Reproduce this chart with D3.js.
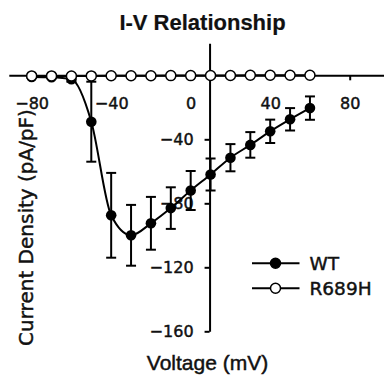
<!DOCTYPE html>
<html>
<head>
<meta charset="utf-8">
<script src="https://cdn.jsdelivr.net/npm/d3@7"></script>
<style>
  html, body { margin: 0; padding: 0; background: #ffffff; }
  svg text { stroke: #111; stroke-width: 0.45px; }
</style>
</head>
<body>
<div id="chart"></div>
<script>
// data (pA/pF vs mV)
const voltages = [-80, -70, -60, -50, -40, -30, -20, -10, 0, 10, 20, 30, 40, 50, 60]
const wtMean = [-1, -1.2, -2.5, -29, -87.5, -100, -92.5, -83, -72, -62, -51.5, -43.5, -35, -27.5, -20.5]
const wtSem = [0.5, 0.8, 1.5, 25, 26.5, 19, 16.5, 13, 12.2, 10, 8.5, 8, 7.3, 7, 7.3]
const mutMean = [-0.4, -0.4, -0.5, -0.4, -0.3, -0.3, -0.3, -0.2, -0.2, -0.1, -0.1, 0, 0, 0, 0]
const xTicks = [-80, -40, 0, 40, 80]
const yTicks = [-40, -80, -120, -160]
const seriesNames = ['WT', 'R689H']

const width = 384
const height = 376
const yAxisAt = 9.5 // the vertical axis crosses a little right of 0 mV in the original

const svg = d3
  .select('#chart')
  .append('svg')
  .attr('width', width)
  .attr('height', height)
  .style('font-family', 'DejaVu Sans, sans-serif')

const xScale = d3.scaleLinear().domain([-91.5, 97]).range([8.8, 383.5])
const yScale = d3.scaleLinear().domain([-160, 20]).range([331.3, 43.3])

const xAxis = (g) => {
  g.attr('transform', `translate(0, ${yScale(0)})`)
    .call(d3.axisBottom(xScale).tickValues(xTicks).tickSize(5).tickSizeOuter(0).tickPadding(17))
    .call((g) => g.select('.domain').attr('stroke', '#000').attr('stroke-width', 2))
    .call((g) => g.selectAll('.tick>line').attr('stroke', '#000').attr('stroke-width', 2))
    .call((g) =>
      g.selectAll('.tick>text')
        .style('font-family', 'DejaVu Sans')
        .style('font-size', '16px')
        .attr('fill', '#111')
    )
}

const yAxis = (g) => {
  g.attr('transform', `translate(${xScale(yAxisAt)}, 0)`)
    .call(d3.axisLeft(yScale).tickValues(yTicks).tickSize(5).tickSizeOuter(0).tickPadding(11))
    .call((g) => g.select('.domain').attr('stroke', '#000').attr('stroke-width', 2))
    .call((g) => g.selectAll('.tick>line').attr('stroke', '#000').attr('stroke-width', 2))
    .call((g) =>
      g.selectAll('.tick>text')
        .style('font-family', 'DejaVu Sans')
        .style('font-size', '16px')
        .attr('fill', '#111')
    )
}

svg.append('g').call(xAxis)
svg.append('g').call(yAxis)

const wtData = voltages.map((v, i) => ({ v: v, mean: wtMean[i], sem: wtSem[i] }))
const mutData = voltages.map((v, i) => ({ v: v, mean: mutMean[i] }))

// WT error bars
const errG = svg.append('g').attr('stroke', '#000').attr('stroke-width', 2)
const capW = 5
wtData.forEach((d) => {
  const x = xScale(d.v)
  const y1 = yScale(d.mean + d.sem)
  const y2 = yScale(d.mean - d.sem)
  errG.append('line').attr('x1', x).attr('x2', x).attr('y1', y1).attr('y2', y2)
  errG.append('line').attr('x1', x - capW).attr('x2', x + capW).attr('y1', y1).attr('y2', y1)
  errG.append('line').attr('x1', x - capW).attr('x2', x + capW).attr('y1', y2).attr('y2', y2)
})

const wtLine = d3
  .line()
  .curve(d3.curveMonotoneX)
  .x((d) => xScale(d.v))
  .y((d) => yScale(d.mean))

svg
  .append('path')
  .datum(wtData)
  .attr('fill', 'none')
  .attr('stroke', '#000')
  .attr('stroke-width', 2)
  .attr('d', wtLine)

svg
  .selectAll('.wt-dot')
  .data(wtData)
  .join('circle')
  .attr('class', 'wt-dot')
  .attr('cx', (d) => xScale(d.v))
  .attr('cy', (d) => yScale(d.mean))
  .attr('r', 5.3)
  .attr('fill', '#000')

const mutLine = d3
  .line()
  .x((d) => xScale(d.v))
  .y((d) => yScale(d.mean))

svg
  .append('path')
  .datum(mutData)
  .attr('fill', 'none')
  .attr('stroke', '#000')
  .attr('stroke-width', 2)
  .attr('d', mutLine)

svg
  .selectAll('.mut-dot')
  .data(mutData)
  .join('circle')
  .attr('class', 'mut-dot')
  .attr('cx', (d) => xScale(d.v))
  .attr('cy', (d) => yScale(d.mean))
  .attr('r', 5)
  .attr('fill', '#fff')
  .attr('stroke', '#000')
  .attr('stroke-width', 1.5)

// legend
const legend = svg.append('g').attr('transform', 'translate(252, 263.3)')
seriesNames.forEach((name, i) => {
  const row = legend.append('g').attr('transform', `translate(0, ${i * 25})`)
  row.append('line')
    .attr('x1', 0).attr('x2', 47.5)
    .attr('y1', 0).attr('y2', 0)
    .attr('stroke', '#000').attr('stroke-width', 2)
  row.append('circle')
    .attr('cx', 23.5).attr('cy', 0).attr('r', 5)
    .attr('fill', i === 0 ? '#000' : '#fff')
    .attr('stroke', '#000').attr('stroke-width', 1.5)
  row.append('text')
    .attr('x', 57.5).attr('y', 0).attr('dy', '0.36em')
    .style('font-family', 'DejaVu Sans')
    .style('font-size', '18.5px')
    .attr('fill', '#111')
    .text(name)
})

// title and axis labels
svg.append('text')
  .attr('x', 202.5).attr('y', 30)
  .attr('text-anchor', 'middle')
  .style('font-family', 'Liberation Sans, Arial, sans-serif')
  .style('font-weight', 'bold')
  .style('font-size', '22px')
  .attr('fill', '#111')
  .style('stroke-width', '0.2px')
  .text('I-V Relationship')

svg.append('text')
  .attr('x', 207.5).attr('y', 370)
  .attr('text-anchor', 'middle')
  .style('font-family', 'Liberation Sans, Arial, sans-serif')
  .style('font-size', '21px')
  .attr('fill', '#111')
  .text('Voltage (mV)')

svg.append('text')
  .attr('transform', 'translate(32.6, 227.5) rotate(-90)')
  .attr('text-anchor', 'middle')
  .style('font-family', 'DejaVu Sans')
  .style('font-size', '20px')
  .attr('fill', '#111')
  .text('Current Density (pA/pF)')
</script>
</body>
</html>
